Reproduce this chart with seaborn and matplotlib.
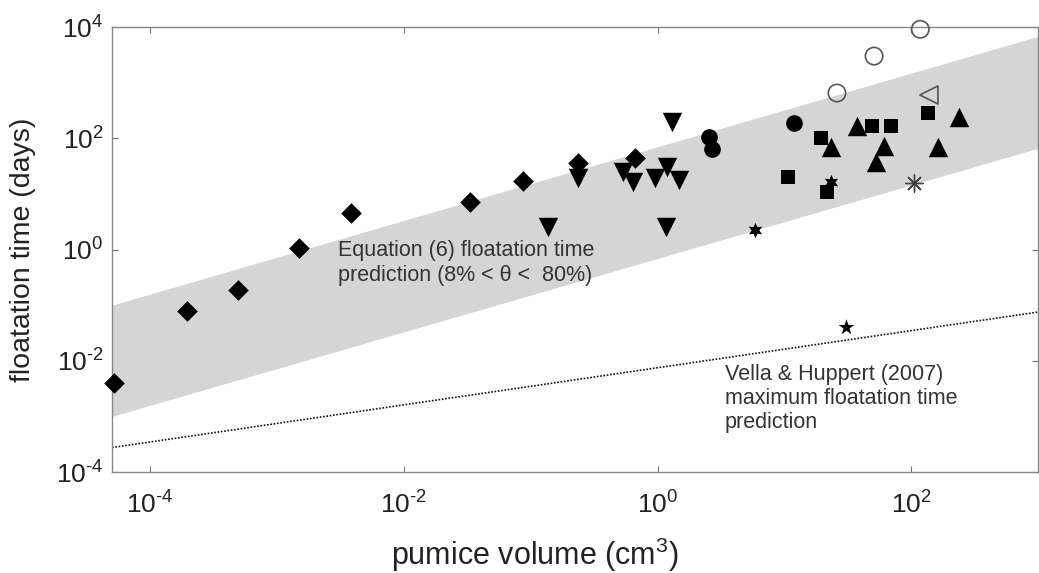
import numpy as np
import pandas as pd
import matplotlib
matplotlib.use("Agg")
import matplotlib.pyplot as plt
import seaborn as sns

# ---------------- data ----------------
diamond_x = [5.2e-5, 1.95e-4, 4.9e-4, 1.5e-3, 3.8e-3, 0.033, 0.087, 0.235, 0.67]
diamond_y = [0.0040, 0.0785, 0.187, 1.06, 4.5, 7.1, 17, 36, 44]

tri_down_x = [1.31, 0.136, 1.16, 0.235, 0.53, 0.64, 0.95, 1.18, 1.49]
tri_down_y = [196, 2.5, 2.5, 19.3, 24.7, 16.4, 19.3, 30.4, 17.8]

circle_x = [2.57, 2.71, 12]
circle_y = [105, 64, 188]

open_circle_x = [26, 51, 118]
open_circle_y = [650, 3000, 9100]

square_x = [10.6, 19.6, 49.5, 69.5, 136, 21.8]
square_y = [20, 101, 166, 166, 285, 10.8]

tri_up_x = [23.4, 37.6, 61.5, 53, 163, 238]
tri_up_y = [70, 166, 72, 37.4, 70, 240]

open_left_x = [138]
open_left_y = [600]

asterisk_x = [106]
asterisk_y = [15.7]

hexagram_x = [5.9, 23.4]
hexagram_y = [2.24, 16.4]

pentagram_x = [30.9]
pentagram_y = [0.040]

# Equation (6) prediction band (8% < theta < 80%)
band_x = [5e-5, 1e3]
band_lower = [1e-3, 66]
band_upper = [0.1, 6800]

# Vella & Huppert (2007) maximum floatation time
vh_x = [5e-5, 1e3]
vh_y = [2.75e-4, 0.075]

x_ticks = [1e-4, 1e-2, 1e0, 1e2]
x_tick_labels = [r"$\mathdefault{10^{\text{-}4}}$", r"$\mathdefault{10^{\text{-}2}}$",
                 r"$\mathdefault{10^{0}}$", r"$\mathdefault{10^{2}}$"]
y_ticks = [1e-4, 1e-2, 1e0, 1e2, 1e4]
y_tick_labels = [r"$\mathdefault{10^{\text{-}4}}$", r"$\mathdefault{10^{\text{-}2}}$",
                 r"$\mathdefault{10^{0}}$", r"$\mathdefault{10^{2}}$", r"$\mathdefault{10^{4}}$"]

# ---------------- style ----------------
sns.set_theme(style="white")
plt.rcParams["font.family"] = ["Liberation Sans", "DejaVu Sans"]
plt.rcParams["mathtext.fontset"] = "custom"
plt.rcParams["mathtext.rm"] = "Liberation Sans"
plt.rcParams["mathtext.it"] = "Liberation Sans:italic"

fig = plt.figure(figsize=(10.39, 5.73), dpi=100)
ax = fig.add_axes([112 / 1039, 1 - 472 / 573, 926 / 1039, 445 / 573])
ax.set_xscale("log")
ax.set_yscale("log")

ax.fill_between(band_x, band_lower, band_upper, color="#d5d5d5", linewidth=0, zorder=1)
sns.lineplot(x=vh_x, y=vh_y, ax=ax, color="#111111", linewidth=1.2,
             dashes=False, zorder=2)
ax.lines[-1].set_linestyle((0, (1.0, 1.0)))

def scat(x, y, marker, ms, face, edge="black", lw=0.0):
    sns.scatterplot(x=x, y=y, ax=ax, marker=marker, s=ms ** 2, color=face,
                    edgecolor=edge, linewidth=lw, zorder=3, clip_on=False, legend=False)

scat(diamond_x, diamond_y, "D", 10.5, "black")
scat(tri_down_x, tri_down_y, "v", 14.0, "black")
scat(circle_x, circle_y, "o", 12.0, "black")
scat(square_x, square_y, "s", 10.5, "black")
scat(tri_up_x, tri_up_y, "^", 14.0, "black")
scat(hexagram_x, hexagram_y, (6, 1, 0), 11.0, "black")
scat(pentagram_x, pentagram_y, "*", 12.0, "black")
scat(open_circle_x, open_circle_y, "o", 12.5, "none", edge="#555555", lw=1.2)
scat(open_left_x, open_left_y, "<", 13.0, "none", edge="#555555", lw=1.2)
scat(asterisk_x, asterisk_y, (8, 2, 0), 12.5, "#444444", edge="#444444", lw=1.0)

ax.set_xlim(5e-5, 1e3)
ax.set_ylim(1e-4, 1e4)
ax.set_xticks(x_ticks)
ax.set_xticklabels(x_tick_labels)
ax.set_yticks(y_ticks)
ax.set_yticklabels(y_tick_labels)
ax.minorticks_off()
ax.tick_params(axis="both", which="major", direction="in", length=4, width=0.8,
               color="#777777", labelsize=19, labelcolor="#222222",
               top=True, right=True, left=True, bottom=True)
ax.tick_params(axis="x", pad=14)
ax.tick_params(axis="y", pad=6)
for sp in ax.spines.values():
    sp.set_visible(True)
    sp.set_color("#888888")
    sp.set_linewidth(1.0)

ax.set_xlabel("pumice volume (cm$^3$)", fontsize=22, color="#222222", va="center")
ax.xaxis.set_label_coords(0.457, -0.187)
ax.set_ylabel("floatation time (days)", fontsize=20.5, color="#222222", va="center")
ax.yaxis.set_label_coords(-0.096, 0.5)

ax.text(3.0e-3, 0.57, "Equation (6) floatation time\nprediction (8% < θ <  80%)",
        fontsize=15.5, color="#333333", ha="left", va="center", linespacing=1.2, zorder=4)
ax.text(3.4, 2.1e-3, "Vella & Huppert (2007)\nmaximum floatation time\nprediction",
        fontsize=15.5, color="#333333", ha="left", va="center", linespacing=1.2, zorder=4)

fig.savefig("out.png", dpi=100)
